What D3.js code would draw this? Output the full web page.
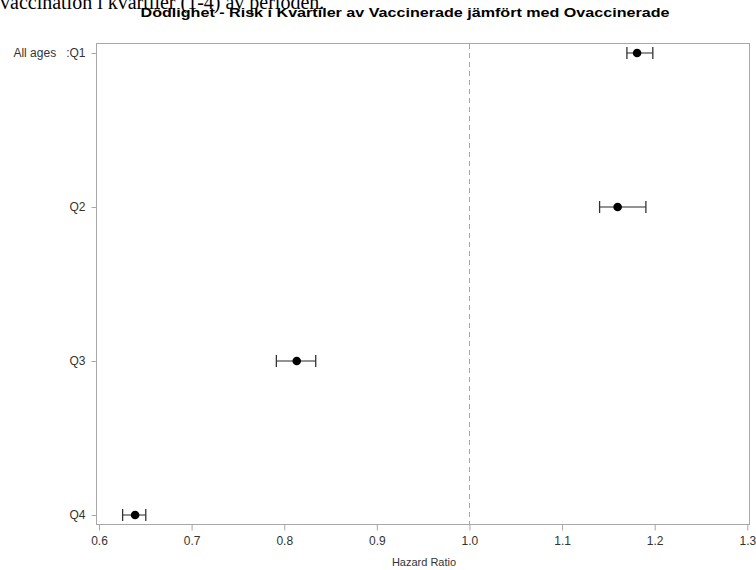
<!DOCTYPE html>
<html>
<head>
<meta charset="utf-8">
<script src="https://cdn.jsdelivr.net/npm/d3@7"></script>
<style>
  body { margin: 0; background: #fff; }
  text { font-family: Arial, "Liberation Sans", sans-serif; }
</style>
</head>
<body>
<div id="forest"></div>
<script>
// data
var groups = ["All ages   :Q1", "Q2", "Q3", "Q4"];
var hr     = [1.181, 1.160, 0.8135, 0.639];
var hrLow  = [1.170, 1.1405, 0.7915, 0.6255];
var hrHigh = [1.198, 1.1905, 0.834, 0.6505];
var xTicks = [0.6, 0.7, 0.8, 0.9, 1.0, 1.1, 1.2, 1.3];

var data = groups.map(function(g, i) {
  return {group: g, hr: hr[i], lo: hrLow[i], hi: hrHigh[i]};
});

var W = 756, H = 570;
var frame = {left: 96, right: 749, top: 43, bottom: 524};

var svg = d3.select("#forest")
  .append("svg")
    .attr("width", W)
    .attr("height", H);

// leftover caption text clipped at the top of the image
svg.append("text")
  .attr("x", 0)
  .attr("y", 9)
  .style("font-family", "'Liberation Serif', 'Times New Roman', serif")
  .style("font-size", "20px")
  .style("fill", "#000")
  .text("vaccination i kvartiler (1-4) av perioden.");

// scales
var x = d3.scaleLinear()
  .domain([0.6, 1.3])
  .range([99, 747.3]);

var y = d3.scalePoint()
  .domain(groups)
  .range([53, 515]);

// frame
svg.append("rect")
  .attr("x", frame.left + 0.5)
  .attr("y", frame.top + 0.5)
  .attr("width", frame.right - frame.left)
  .attr("height", frame.bottom - frame.top)
  .style("fill", "none")
  .style("stroke", "#a8a8a8");

// x axis
var xAxis = svg.append("g")
  .attr("transform", "translate(0," + (frame.bottom + 0.5) + ")")
  .call(d3.axisBottom(x).tickValues(xTicks).tickFormat(d3.format(".1f")).tickSize(6).tickPadding(6));
xAxis.select(".domain").remove();
xAxis.selectAll("line").style("stroke", "#a8a8a8");
xAxis.selectAll("text")
  .style("font-family", "Arial, 'Liberation Sans', sans-serif")
  .style("font-size", "12px")
  .style("fill", "#333");

// y axis
var yAxis = svg.append("g")
  .attr("transform", "translate(" + (frame.left + 0.5) + ",0)")
  .call(d3.axisLeft(y).tickSize(5).tickPadding(6));
yAxis.select(".domain").remove();
yAxis.selectAll("line").style("stroke", "#a8a8a8");
yAxis.selectAll("text")
  .style("font-family", "Arial, 'Liberation Sans', sans-serif")
  .style("font-size", "12px")
  .style("fill", "#333")
  .style("white-space", "pre")
  .attr("xml:space", "preserve");

// reference line at 1
svg.append("line")
  .attr("x1", Math.round(x(1.0)) + 0.5)
  .attr("x2", Math.round(x(1.0)) + 0.5)
  .attr("y1", frame.top + 1)
  .attr("y2", frame.bottom)
  .style("stroke", "#a8a8a8")
  .style("stroke-dasharray", "5,4");

// confidence intervals
var ci = svg.append("g");
ci.selectAll(".ci")
  .data(data)
  .enter()
  .append("line")
    .attr("x1", function(d) { return x(d.lo); })
    .attr("x2", function(d) { return x(d.hi); })
    .attr("y1", function(d) { return y(d.group); })
    .attr("y2", function(d) { return y(d.group); })
    .style("stroke", "#6e6e6e")
    .style("stroke-width", 1.5);

["lo", "hi"].forEach(function(k) {
  ci.selectAll(".cap-" + k)
    .data(data)
    .enter()
    .append("line")
      .attr("x1", function(d) { return x(d[k]); })
      .attr("x2", function(d) { return x(d[k]); })
      .attr("y1", function(d) { return y(d.group) - 6; })
      .attr("y2", function(d) { return y(d.group) + 6; })
      .style("stroke", "#333")
      .style("stroke-width", 1.3);
});

// points
svg.append("g")
  .selectAll("circle")
  .data(data)
  .enter()
  .append("circle")
    .attr("cx", function(d) { return x(d.hr); })
    .attr("cy", function(d) { return y(d.group); })
    .attr("r", 4.3)
    .style("fill", "#000");

// title
svg.append("text")
  .attr("x", 405)
  .attr("y", 17)
  .attr("text-anchor", "middle")
  .attr("textLength", 529)
  .attr("lengthAdjust", "spacingAndGlyphs")
  .style("font-size", "13px")
  .style("font-weight", "bold")
  .style("fill", "#000")
  .text("Dödlighet - Risk i Kvartiler av Vaccinerade jämfört med Ovaccinerade");

// axis label
svg.append("text")
  .attr("x", 424)
  .attr("y", 566)
  .attr("text-anchor", "middle")
  .style("font-size", "11px")
  .style("fill", "#333")
  .text("Hazard Ratio");
</script>
</body>
</html>
